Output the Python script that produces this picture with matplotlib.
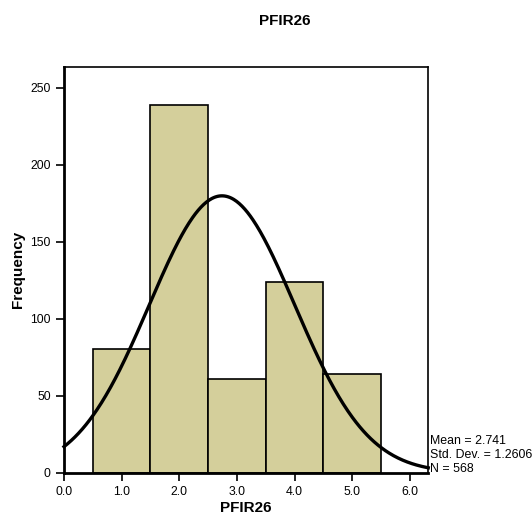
import numpy as np
import matplotlib
matplotlib.use("Agg")
import matplotlib.pyplot as plt

plt.rcParams["font.family"] = ["Liberation Sans", "DejaVu Sans"]

# Histogram data (bin edges and counts)
bin_edges = [0.5, 1.5, 2.5, 3.5, 4.5, 5.5]
counts = [80, 239, 61, 124, 64]
mean = 2.741
std = 1.2606
n = 568

x_ticks = [0.0, 1.0, 2.0, 3.0, 4.0, 5.0, 6.0]
y_ticks = [0, 50, 100, 150, 200, 250]

fig = plt.figure(figsize=(5.32, 5.19), dpi=100)
ax = fig.add_axes([0.1203, 0.0892, 0.805 - 0.1203, 0.8715 - 0.0892])

lefts = bin_edges[:-1]
widths = np.diff(bin_edges)
ax.bar(lefts, counts, width=widths, align="edge",
       color="#d4cf9b", edgecolor="black", linewidth=1.2, zorder=2)

# Normal curve scaled to counts
xs = np.linspace(0, 6.32, 400)
bw = widths[0]
ys = n * bw / (std * np.sqrt(2 * np.pi)) * np.exp(-0.5 * ((xs - mean) / std) ** 2)
ax.plot(xs, ys, color="black", linewidth=2.4, zorder=3, clip_on=False)

ax.set_xlim(0, 6.32)
ax.set_ylim(0, 263.6)
ax.set_xticks(x_ticks)
ax.set_xticklabels([f"{t:.1f}" for t in x_ticks])
ax.set_yticks(y_ticks)
ax.tick_params(direction="out", length=6, width=1.2, labelsize=8.8, colors="black")
for s in ax.spines.values():
    s.set_linewidth(1.2)
ax.spines["left"].set_linewidth(2)
ax.spines["bottom"].set_linewidth(2)

ax.set_xlabel("PFIR26", fontsize=11, fontweight="bold", labelpad=2)
ax.set_ylabel("Frequency", fontsize=11, fontweight="bold", labelpad=4)
fig.text(285 / 532, 1 - 21 / 519, "PFIR26", ha="center", va="center",
         fontsize=11, fontweight="bold")

fig.text(430 / 532, 1 - 455 / 519,
         f"Mean = {mean}\nStd. Dev. = {std}\nN = {n}",
         ha="left", va="center", fontsize=8.9, linespacing=1.25)

fig.savefig("out.png", dpi=100)
